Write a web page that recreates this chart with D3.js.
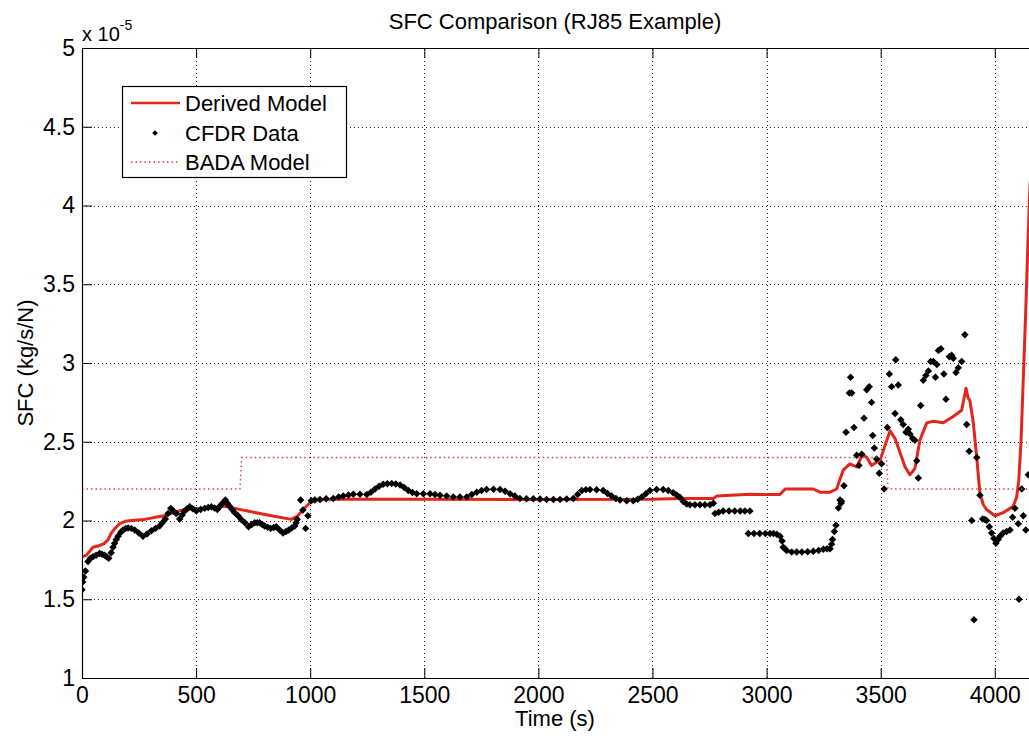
<!DOCTYPE html>
<html>
<head>
<meta charset="utf-8">
<script src="https://cdn.jsdelivr.net/npm/d3@7"></script>
<style>
  html, body { margin: 0; padding: 0; background: #fff; }
  svg { display: block; font-family: Arial, "Liberation Sans", Helvetica, sans-serif; }
</style>
</head>
<body>
<svg id="chart" width="1029" height="736"></svg>
<script>
// ---------------- DATA (values in units of 1e-5 kg/s/N) ----------------
const title = "SFC Comparison (RJ85 Example)";
const xLabel = "Time (s)";
const yLabel = "SFC (kg/s/N)";
const xTicks = [0, 500, 1000, 1500, 2000, 2500, 3000, 3500, 4000];
const yTicks = [1, 1.5, 2, 2.5, 3, 3.5, 4, 4.5, 5];
const legendLabels = ["Derived Model", "CFDR Data", "BADA Model"];

// Derived model [time, SFC]
const derivedModel = [
  [0,1.77],[20,1.78],[48,1.83],[75,1.84],[99,1.855],[115,1.88],[128,1.92],[145,1.95],
  [165,1.98],[190,1.995],[216,2.0],[275,2.007],[320,2.02],[362,2.03],[400,2.05],[450,2.07],
  [538,2.08],[625,2.09],[669,2.077],[742,2.055],[830,2.03],[917,2.007],[946,2.03],[970,2.07],
  [990,2.10],[1012,2.13],[1100,2.135],[1500,2.135],[2000,2.133],[2500,2.135],[2620,2.14],
  [2767,2.14],[2781,2.155],[2927,2.166],[3059,2.165],[3081,2.2],[3205,2.2],[3234,2.18],
  [3278,2.18],[3307,2.2],[3336,2.32],[3365,2.36],[3395,2.34],[3421,2.42],[3439,2.40],
  [3460,2.35],[3482,2.37],[3497,2.38],[3520,2.48],[3541,2.57],[3563,2.52],[3585,2.43],
  [3607,2.34],[3628,2.29],[3650,2.33],[3672,2.51],[3702,2.62],[3731,2.63],[3774,2.62],
  [3818,2.66],[3855,2.70],[3874,2.84],[3883,2.78],[3891,2.76],[3906,2.62],[3921,2.40],
  [3935,2.17],[3950,2.10],[3964,2.07],[4001,2.03],[4037,2.05],[4081,2.09],[4096,2.15],
  [4105,2.25],[4115,2.5],[4125,2.9],[4135,3.3],[4145,3.75],[4155,4.15]
];

// BADA model [time, SFC]
const badaModel = [
  [0,2.2],[692,2.2],[700,2.4],[3526,2.4],[3532,2.2],[4200,2.2]
];

// CFDR data [time, SFC]
const cfdrClimb = [
  [0,1.56],[3,1.61],[8,1.64],[15,1.68],[26,1.74],[37,1.76],[48,1.77],[62,1.78],[77,1.79],
  [88,1.785],[99,1.78],[108,1.77],[117,1.76],[128,1.795],[136,1.83],[143,1.855],[150,1.88],
  [158,1.90],[170,1.925],[180,1.94],[191,1.95],[202,1.953],[216,1.95],[231,1.94],[249,1.92],
  [267,1.90],[285,1.915],[304,1.935],[322,1.95],[340,1.965],[352,1.985],[365,2.01],[377,2.045],
  [389,2.077],[401,2.06],[413,2.045],[428,2.01],[439,2.035],[450,2.06],[461,2.075],[472,2.087],
  [486,2.075],[501,2.06],[520,2.07],[538,2.077],[553,2.083],[567,2.087],[580,2.08],[593,2.07],
  [602,2.085],[610,2.10],[619,2.115],[628,2.13],[637,2.11],[647,2.09],[658,2.07],[669,2.05],
  [684,2.03],[698,2.007],[714,1.985],[730,1.96],[744,1.975],[757,1.985],[768,1.985],[779,1.985],
  [790,1.975],[800,1.965],[814,1.957],[827,1.95],[840,1.955],[851,1.96],[866,1.94],[881,1.92],
  [894,1.93],[906,1.94],[919,1.952],[932,1.965],[938,1.985],[943,2.007],
  [958,2.13],[968,2.066],[980,1.95],[990,2.03]
];
const cfdrCruise = [
  [1005,2.125],[1020,2.13],[1043,2.134],[1070,2.138],[1101,2.14],[1125,2.15],[1145,2.155],
  [1168,2.162],[1189,2.167],[1218,2.166],[1248,2.165],[1266,2.18],[1284,2.20],[1302,2.218],
  [1320,2.23],[1338,2.234],[1357,2.235],[1375,2.232],[1394,2.225],[1412,2.21],[1430,2.19],
  [1448,2.178],[1467,2.17],[1496,2.17],[1525,2.17],[1547,2.165],[1569,2.16],[1598,2.155],
  [1627,2.15],[1656,2.15],[1686,2.15],[1708,2.165],[1730,2.18],[1751,2.19],[1773,2.197],
  [1803,2.198],[1832,2.197],[1854,2.185],[1876,2.17],[1897,2.155],[1919,2.14],[1948,2.138],
  [1978,2.138],[2007,2.136],[2036,2.134],[2066,2.134],[2095,2.134],[2124,2.136],[2153,2.14],
  [2172,2.165],[2190,2.19],[2208,2.196],[2226,2.197],[2255,2.195],[2284,2.19],[2303,2.172],
  [2321,2.155],[2340,2.14],[2358,2.13],[2387,2.126],[2416,2.125],[2435,2.135],[2453,2.15],
  [2471,2.17],[2489,2.19],[2518,2.197],[2547,2.197],[2569,2.19],[2591,2.176],[2606,2.162],
  [2620,2.147],[2635,2.12],[2650,2.105],[2664,2.10],[2686,2.10],[2708,2.10],[2730,2.10],
  [2752,2.10],[2767,2.11]
];
const cfdrSteps = [
  [2774,2.045],[2790,2.052],[2810,2.06],[2835,2.06],[2860,2.06],[2885,2.06],[2905,2.06],[2927,2.06],
  [2920,1.918],[2945,1.918],[2970,1.918],[2995,1.918],[3015,1.918],[3030,1.918],[3045,1.912],
  [3059,1.90],[3068,1.87],[3073,1.83],
  [3080,1.82],[3088,1.81],[3110,1.80],[3132,1.80],[3155,1.80],[3180,1.802],[3205,1.805],
  [3228,1.81],[3249,1.817],[3265,1.82],[3278,1.82],[3285,1.85],[3289,1.88],[3297,1.93],
  [3304,1.97],[3315,2.08],[3322,2.13],[3326,2.11],[3329,2.12]
];
const cfdrDescent = [
  [3339,2.22],[3348,2.56],[3363,2.81],[3368,2.91],[3373,2.81],[3383,2.59],[3395,2.415],
  [3405,2.35],[3417,2.42],[3427,2.65],[3439,2.83],[3450,2.85],[3460,2.75],[3465,2.54],
  [3472,2.46],[3482,2.39],[3494,2.30],[3504,2.36],[3515,2.20],[3529,2.59],[3538,2.93],
  [3548,2.85],[3563,2.68],[3566,3.02],[3577,2.86],[3588,2.64],[3599,2.61],[3611,2.56],
  [3621,2.58],[3628,2.55],[3640,2.52],[3650,2.51],[3658,2.38],[3665,2.27],[3675,2.73],
  [3687,2.89],[3698,2.92],[3709,2.95],[3719,3.01],[3731,3.01],[3740,2.91],[3746,2.99],
  [3753,3.08],[3764,3.09],[3777,2.93],[3786,2.77],[3801,3.04],[3811,3.05],[3818,3.03],
  [3830,2.94],[3840,2.97],[3855,3.01],[3869,3.18],[3877,2.61],[3888,2.44],[3899,2.00],
  [3909,1.37],[3921,2.40],[3935,2.16],[3947,2.01],[3957,2.007],[3964,2.0],[3976,1.96],
  [3986,1.92],[3996,1.886],[4005,1.855],[4015,1.88],[4023,1.90],[4037,1.92],[4052,1.93],
  [4067,1.94],[4078,2.02],[4088,2.077],[4103,1.98],[4106,1.50],[4118,2.20],[4125,2.03],
  [4136,1.94],[4147,2.29]
];

// ---------------- DRAWING ----------------
const svg = d3.select("#chart");
const W = 1029, H = 736;
const m = { left: 82, top: 48, right: 1029, bottom: 678 };

svg.append("rect").attr("width", W).attr("height", H).attr("fill", "#fff");

const x = d3.scaleLinear().domain([0, 4150]).range([m.left, m.right]);
const y = d3.scaleLinear().domain([1, 5]).range([m.bottom, m.top]);

svg.append("defs").append("clipPath").attr("id", "plotClip")
  .append("rect").attr("x", m.left).attr("y", m.top)
  .attr("width", m.right - m.left).attr("height", m.bottom - m.top);

// grid
const grid = svg.append("g").attr("stroke", "#222").attr("stroke-width", 1)
  .attr("stroke-dasharray", "1,3").attr("fill", "none");
xTicks.filter(d => d !== 0).forEach(d => {
  grid.append("line").attr("x1", Math.round(x(d)) + 0.5).attr("x2", Math.round(x(d)) + 0.5)
    .attr("y1", m.bottom).attr("y2", m.top);
});
yTicks.filter(d => d !== 1 && d !== 5).forEach(d => {
  grid.append("line").attr("y1", Math.round(y(d)) + 0.5).attr("y2", Math.round(y(d)) + 0.5)
    .attr("x1", m.left).attr("x2", m.right);
});

const plot = svg.append("g").attr("clip-path", "url(#plotClip)");

// derived model
const line = d3.line().x(d => x(d[0])).y(d => y(d[1]));
plot.append("path").datum(derivedModel).attr("d", line)
  .attr("fill", "none").attr("stroke", "#e3261b").attr("stroke-width", 3)
  .attr("stroke-linejoin", "round");

// CFDR points
const diamond = d3.symbol().type(d3.symbolSquare).size(28);
const cfdrAll = [].concat(cfdrClimb, cfdrCruise, cfdrSteps, cfdrDescent);
plot.append("g").selectAll("path").data(cfdrAll).join("path")
  .attr("d", diamond())
  .attr("transform", d => `translate(${x(d[0])},${y(d[1])}) rotate(45)`)
  .attr("fill", "#000");

// BADA model
plot.append("path").datum(badaModel).attr("d", line)
  .attr("fill", "none").attr("stroke", "#e0403a").attr("stroke-width", 1.4)
  .attr("stroke-dasharray", "1.5,3");

// axes
const fmt = d3.format("~g");
const axB = svg.append("g").attr("transform", `translate(0,${m.bottom})`)
  .call(d3.axisBottom(x).tickValues(xTicks).tickFormat(fmt).tickSizeInner(-10).tickSizeOuter(0).tickPadding(9));
const axT = svg.append("g").attr("transform", `translate(0,${m.top})`)
  .call(d3.axisTop(x).tickValues(xTicks).tickFormat("").tickSizeInner(-10).tickSizeOuter(0));
const axL = svg.append("g").attr("transform", `translate(${m.left},0)`)
  .call(d3.axisLeft(y).tickValues(yTicks).tickFormat(fmt).tickSizeInner(-10).tickSizeOuter(0).tickPadding(7));
[axB, axT, axL].forEach(a => {
  a.select(".domain").attr("stroke", "#000").attr("stroke-width", 1.2);
  a.selectAll(".tick line").attr("stroke", "#000");
  a.selectAll("text").attr("fill", "#000").style("font-size", "23px")
    .style("font-family", "Arial, 'Liberation Sans', sans-serif");
});

// exponent label
const expo = svg.append("text").attr("x", 82).attr("y", 41)
  .style("font-size", "20px").attr("fill", "#000");
expo.append("tspan").text("x 10");
expo.append("tspan").attr("dy", -11).style("font-size", "14px").text("-5");

// title and axis labels
svg.append("text").attr("x", 555).attr("y", 29).attr("text-anchor", "middle")
  .style("font-size", "22px").attr("fill", "#000").text(title);
svg.append("text").attr("x", 555).attr("y", 726).attr("text-anchor", "middle")
  .style("font-size", "22px").attr("fill", "#000").text(xLabel);
svg.append("text").attr("transform", `translate(33,363) rotate(-90)`).attr("text-anchor", "middle")
  .style("font-size", "22px").attr("fill", "#000").text(yLabel);

// legend
const lg = svg.append("g");
lg.append("rect").attr("x", 122.5).attr("y", 86.5).attr("width", 224).attr("height", 91)
  .attr("fill", "#fff").attr("stroke", "#000").attr("stroke-width", 1.2);
const rows = [103, 133, 162];
lg.append("line").attr("x1", 131).attr("x2", 180).attr("y1", rows[0]).attr("y2", rows[0])
  .attr("stroke", "#e3261b").attr("stroke-width", 2.5);
lg.append("path").attr("d", d3.symbol().type(d3.symbolSquare).size(15)()).attr("transform", `translate(155,${rows[1]}) rotate(45)`)
  .attr("fill", "#000");
lg.append("line").attr("x1", 131).attr("x2", 180).attr("y1", rows[2]).attr("y2", rows[2])
  .attr("stroke", "#e0403a").attr("stroke-width", 1.4).attr("stroke-dasharray", "1.5,3");
legendLabels.forEach((t, i) => {
  lg.append("text").attr("x", 185).attr("y", rows[i] + 8)
    .style("font-size", "22px").attr("fill", "#000").text(t);
});
</script>
</body>
</html>
